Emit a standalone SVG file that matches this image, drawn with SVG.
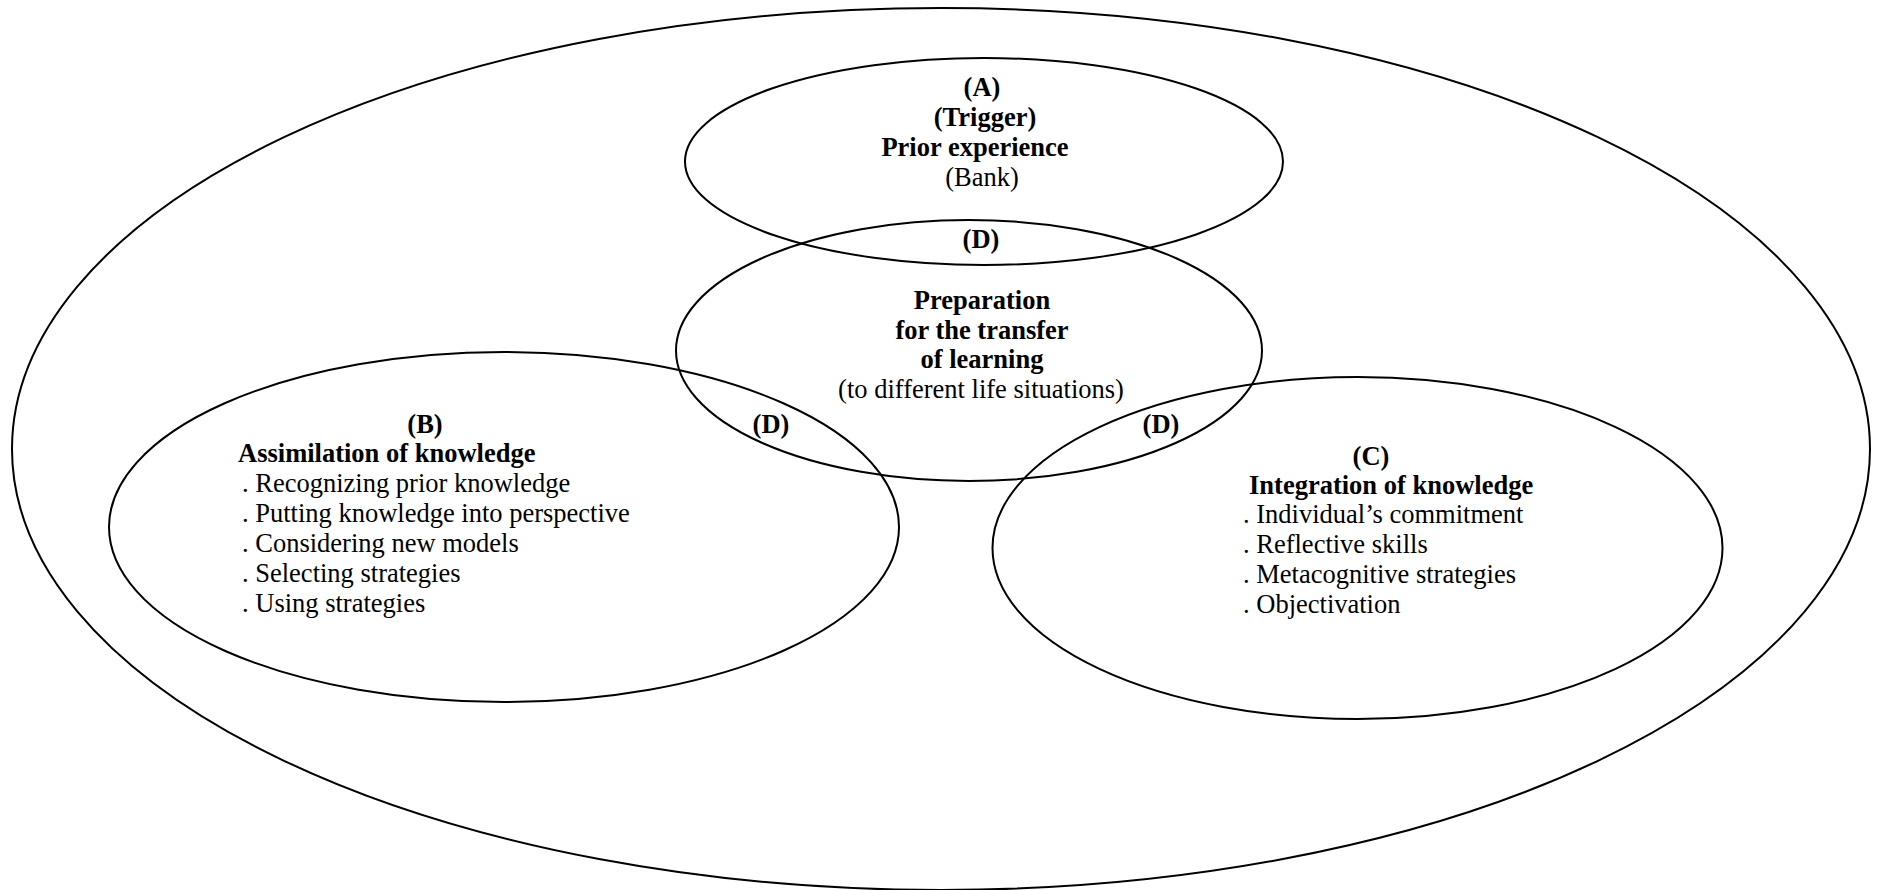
<svg xmlns="http://www.w3.org/2000/svg" width="1877" height="890" viewBox="0 0 1877 890">
<style>
.e{fill:none;stroke:#000;stroke-width:2}
text{font-family:"Liberation Serif","Times New Roman",serif;font-size:26.5px;fill:#000}
.b{font-weight:bold}
.c{text-anchor:middle}
</style>
<rect width="1877" height="890" fill="#fff"/>
<g id="outer"><ellipse class="e" cx="941" cy="449" rx="929" ry="441"/></g>
<g id="nodeA">
<ellipse class="e" cx="984" cy="161.5" rx="299" ry="103.5"/>
<text class="b c" x="982" y="96">(A)</text>
<text class="b c" x="985" y="126">(Trigger)</text>
<text class="b c" x="975" y="156">Prior experience</text>
<text class="c" x="982" y="186">(Bank)</text>
</g>
<g id="nodeD">
<ellipse class="e" cx="969" cy="350.5" rx="293" ry="130.5"/>
<text class="b c" x="981" y="248">(D)</text>
<text class="b c" x="982" y="309">Preparation</text>
<text class="b c" x="982" y="339">for the transfer</text>
<text class="b c" x="982" y="368">of learning</text>
<text class="c" x="981" y="398">(to different life situations)</text>
</g>
<g id="nodeB">
<ellipse class="e" cx="504" cy="527" rx="395" ry="175"/>
<text class="b c" x="425" y="433">(B)</text>
<text class="b" x="238" y="462">Assimilation of knowledge</text>
<text x="242" y="492">. Recognizing prior knowledge</text>
<text x="242" y="522">. Putting knowledge into perspective</text>
<text x="242" y="552">. Considering new models</text>
<text x="242" y="582">. Selecting strategies</text>
<text x="242" y="612">. Using strategies</text>
</g>
<g id="nodeC">
<ellipse class="e" cx="1357.5" cy="548" rx="365" ry="171"/>
<text class="b c" x="1371" y="465">(C)</text>
<text class="b" x="1249" y="494">Integration of knowledge</text>
<text x="1243" y="523">. Individual’s commitment</text>
<text x="1243" y="553">. Reflective skills</text>
<text x="1243" y="583">. Metacognitive strategies</text>
<text x="1243" y="613">. Objectivation</text>
</g>
<g id="overlaps">
<text class="b c" x="771" y="433">(D)</text>
<text class="b c" x="1161" y="433">(D)</text>
</g>
<g id="connectors"></g>
</svg>
